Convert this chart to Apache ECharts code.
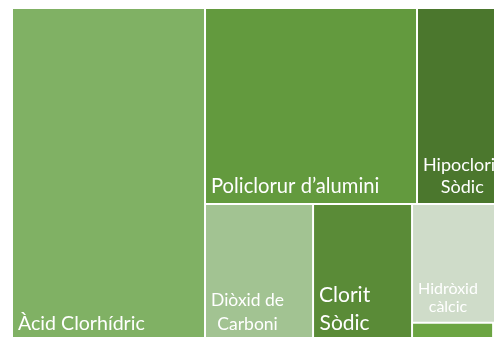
<!DOCTYPE html>
<html>
<head>
<meta charset="utf-8">
<script src="https://cdn.jsdelivr.net/npm/echarts@6/dist/echarts.min.js"></script>
<style>
  html, body { margin: 0; padding: 0; background: #ffffff; }
  #chart { width: 494px; height: 337px; }
</style>
</head>
<body>
<div id="chart"></div>
<script>
// Water-treatment reagents and their consumption share
const categories = [
  'Àcid Clorhídric',
  'Policlorur d’alumini',
  'Hipoclorit Sòdic',
  'Diòxid de Carboni',
  'Clorit Sòdic',
  'Hidròxid càlcic',
  'Permanganat Potàssic',
  'Carbó Actiu'
];
const consumption = [6427, 4155, 1803, 1480, 1356, 1151, 148, 29];

// Styling per tile (kept apart from the values)
const tileColors = ['#80B164', '#639A3E', '#4B772D', '#A2C392', '#5A8B37', '#CFDCC9', '#6CA543', '#8DBE6E'];
const labelSizes = [19.6, 20.2, 18, 17.5, 21, 16, 0, 0];
const labelLineHeights = [26, 26, 22, 24, 28, 18, 0, 0];
const labelWraps = [false, false, true, true, true, true, false, false];

const FONT = 'Lato';
const measureCtx = document.createElement('canvas').getContext('2d');
function textWidth(str, size) {
  measureCtx.font = size + 'px ' + FONT;
  return measureCtx.measureText(str).width;
}
function wrapText(str) {
  const cut = str.lastIndexOf(' ');
  return str.slice(0, cut) + '\n' + str.slice(cut + 1);
}

// Gap between baseline of the last line and the tile bottom
const BASE_GAP = 9.5;
const EDGE = 5;

const treeData = categories.map((name, i) => {
  const size = labelSizes[i];
  const item = {
    name: name,
    value: consumption[i],
    itemStyle: { color: tileColors[i] }
  };
  if (!size) {
    item.label = { show: false };
    return item;
  }
  const lh = labelLineHeights[i];
  const lift = BASE_GAP - lh / 2 + 0.35 * size - EDGE;
  const label = {
    show: true,
    fontSize: size,
    lineHeight: lh,
    offset: [0, -lift]
  };
  if (labelWraps[i]) {
    const lines = wrapText(name).split('\n');
    const block = Math.max.apply(null, lines.map(l => textWidth(l, size)));
    label.align = 'center';
    label.offset = [block / 2, -lift];
  }
  item.label = label;
  return item;
});

const chart = echarts.init(document.getElementById('chart'), null, { renderer: 'canvas' });
chart.setOption({
  animation: false,
  series: [{
    type: 'treemap',
    left: 13,
    top: 9,
    width: 495,
    height: 331,
    squareRatio: 1,
    roam: false,
    nodeClick: false,
    silent: true,
    breadcrumb: { show: false },
    itemStyle: { gapWidth: 2, borderWidth: 0, borderColor: '#ffffff' },
    levels: [{ itemStyle: { gapWidth: 2, borderWidth: 0 } }],
    label: {
      show: true,
      position: 'insideBottomLeft',
      distance: EDGE,
      padding: 0,
      color: '#ffffff',
      fontFamily: FONT,
      overflow: 'none',
      formatter: function (p) {
        const idx = categories.indexOf(p.name);
        return idx >= 0 && labelWraps[idx] ? wrapText(p.name) : p.name;
      }
    },
    emphasis: { disabled: true },
    data: treeData
  }]
});
</script>
</body>
</html>
